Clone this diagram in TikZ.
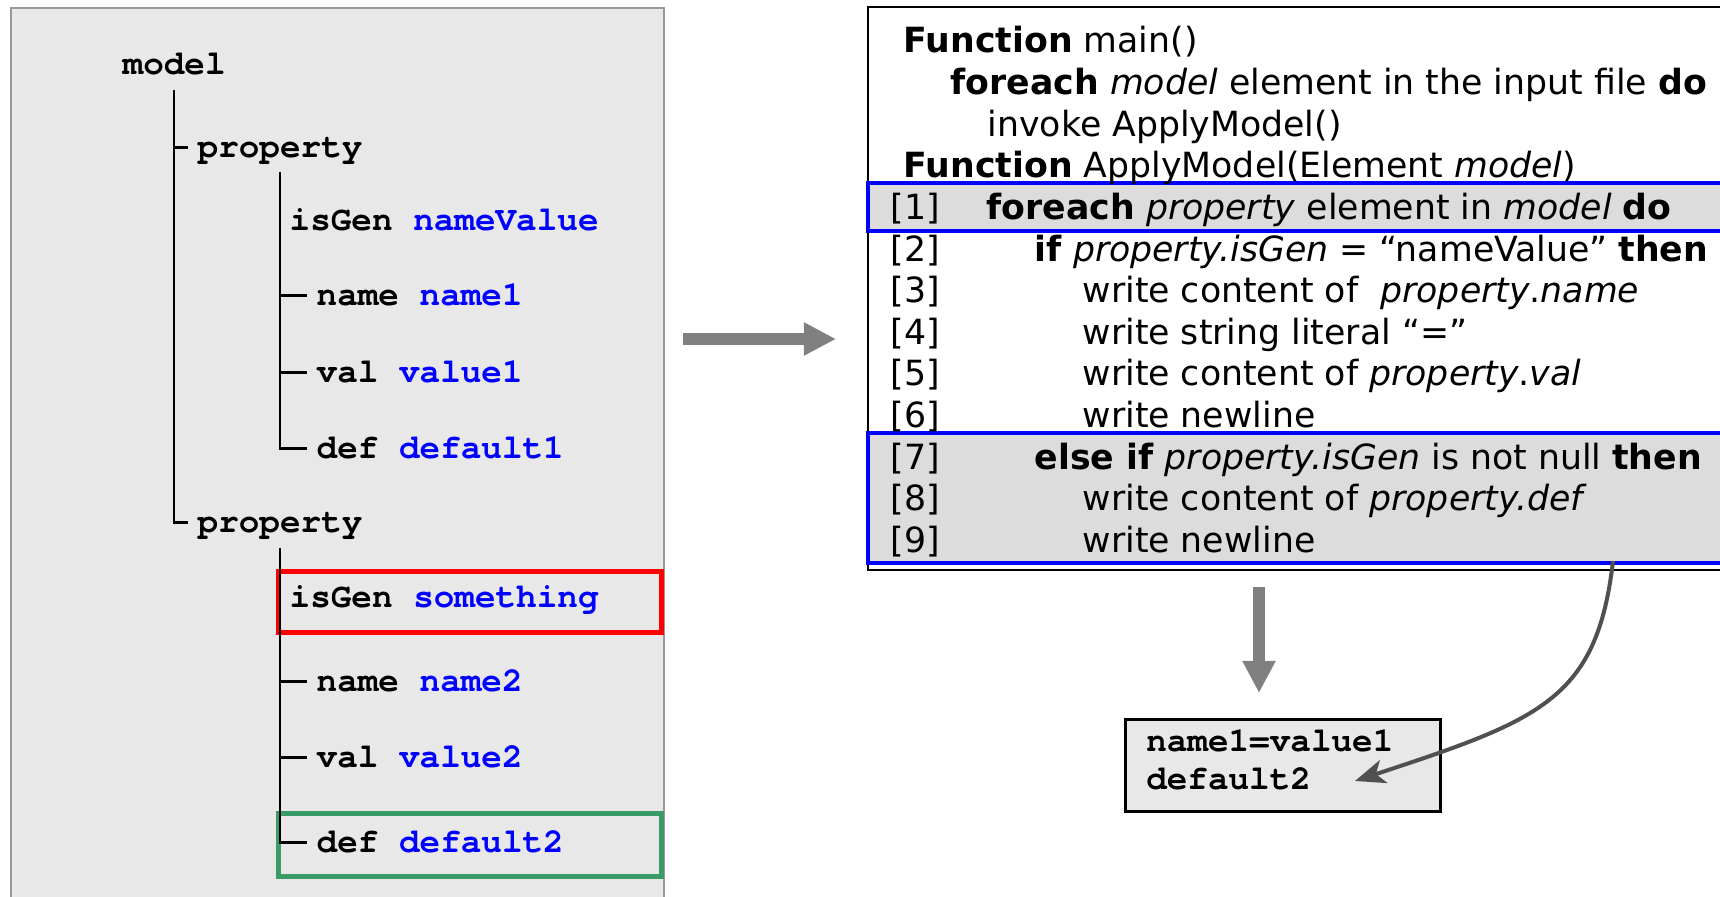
\documentclass[tikz,border=0pt]{standalone}
\usepackage{fontspec}
\setmainfont{DejaVu Sans}
\newfontfamily\codefont{TeX Gyre Cursor}
\usetikzlibrary{arrows.meta,positioning}
\definecolor{panelgray}{HTML}{E8E8E8}
\definecolor{rowgray}{HTML}{DCDCDC}
\definecolor{framegray}{HTML}{9A9A9A}
\definecolor{arrowgray}{HTML}{808080}
\definecolor{curvegray}{HTML}{505050}
\definecolor{valblue}{HTML}{0000FF}
\definecolor{hlred}{HTML}{FF0000}
\definecolor{hlgreen}{HTML}{3A9A68}
\newcommand{\kw}[1]{\textbf{#1}}
\newcommand{\va}[1]{\textit{#1}}
\newcommand{\xv}[1]{\textcolor{valblue}{#1}}
\tikzset{
  xmlnode/.style={anchor=base west, inner xsep=0.09cm, inner ysep=0pt,
    text height=0.19cm, text depth=0pt,
    font=\codefont\bfseries\fontsize{9.76pt}{10.8pt}\selectfont},
  tree/.style={line width=0.022cm, black},
  codeline/.style={anchor=base west, inner sep=0pt,
    font=\fontsize{9.87pt}{11.8pt}\selectfont},
  bigarrow/.style={arrowgray, line width=0.12cm,
    -{Triangle[length=0.32cm, width=0.31cm]}},
  curvearrow/.style={curvegray, line width=0.04cm,
    -{Stealth[length=0.3cm, width=0.24cm, inset=0.08cm]}},
  hlbox/.style={line width=0.05cm},
  rowbox/.style={valblue, fill=rowgray, line width=0.035cm}
}
\begin{document}
\begin{tikzpicture}[x=0.01cm, y=-0.01cm]
\useasboundingbox (0,0) rectangle (1720,897);
\clip (0,0) rectangle (1720,897);

% input file (tree)
\draw[framegray, fill=panelgray, line width=0.015cm] (11,8) rectangle (664,910);
\draw[hlred, hlbox] (278.5,571.5) rectangle (661,632.5);
\draw[hlgreen, hlbox] (278.5,813.5) rectangle (661,876);

\node[xmlnode] (model) at (113,74) {model};
\node[xmlnode] (prop1) at (188,157) {property};
\node[xmlnode] (gen1)  at (280,230) {isGen \xv{nameValue}};
\node[xmlnode] (name1) at (307,305) {name \xv{name1}};
\node[xmlnode] (val1)  at (307,382) {val \xv{value1}};
\node[xmlnode] (def1)  at (307,458) {def \xv{default1}};
\node[xmlnode] (prop2) at (188,532) {property};
\node[xmlnode] (gen2)  at (280,607) {isGen \xv{something}};
\node[xmlnode] (name2) at (307,691) {name \xv{name2}};
\node[xmlnode] (val2)  at (307,767) {val \xv{value2}};
\node[xmlnode] (def2)  at (307,852) {def \xv{default2}};

\coordinate (t1) at ([yshift=-0.15cm]model.south);
\coordinate (t2) at ([yshift=-0.14cm]prop1.south);
\coordinate (t3) at ([yshift=-0.15cm]prop2.south);
\draw[tree] (t1) |- (prop2.west);
\draw[tree] (t1 |- prop1.west) -- (prop1.west);
\draw[tree] (t2) |- (def1.west);
\draw[tree] (t3) |- (def2.west);
\foreach \nd in {name1,val1}
  \draw[tree] (t2 |- \nd.west) -- (\nd.west);
\foreach \nd in {name2,val2}
  \draw[tree] (t3 |- \nd.west) -- (\nd.west);

\coordinate (hA) at (683,339);
\coordinate (hB) at (836,339);
\draw[bigarrow] (hA) -- (hB);

% algorithm
\draw[black, fill=white, line width=0.02cm] (868,7) rectangle (1740,570);
\draw[rowbox] (868,183) rectangle (1740,231);
\draw[rowbox] (868,433) rectangle (1740,563);

\node[codeline] (f1) at (903,53)    {\kw{Function} main()};
\node[codeline] (f2) at (950,94.6)  {\kw{foreach} \va{model} element in the input file \kw{do}};
\node[codeline] (f3) at (987,136.2) {invoke ApplyModel()};
\node[codeline] (f4) at (903,177.8) {\kw{Function} ApplyModel(Element \va{model})};
\foreach \n/\x/\txt in {
  1/986/{\kw{foreach} \va{property} element in \va{model} \kw{do}},
  2/1034/{\kw{if} \va{property.isGen} = “nameValue” \kw{then}},
  3/1082/{write content of\ \ \va{property}.\va{name}},
  4/1082/{write string literal “=”},
  5/1082/{write content of \va{property}.\va{val}},
  6/1082/{write newline},
  7/1034/{\kw{else if} \va{property.isGen} is not null \kw{then}},
  8/1082/{write content of \va{property.def}},
  9/1082/{write newline}}{
  \node[codeline] (num\n) at (890,{53+41.6*(\n+3)}) {[\n]};
  \node[codeline] (txt\n) at (\x,{53+41.6*(\n+3)}) {\txt};
}

% output
\node[draw=black, fill=panelgray, line width=0.025cm, anchor=north west,
  minimum width=3.15cm, text width=2.73cm,
  inner xsep=0.21cm, inner ysep=0.11cm, text height=0.21cm, text depth=0.49cm,
  align=left, font=\codefont\bfseries\fontsize{9.76pt}{10.8pt}\selectfont]
  (outbox) at (1124,718) {name1=value1\\default2};

\coordinate (dA) at (1259,587);
\coordinate (dB) at (1259,693);
\draw[bigarrow] (dA) -- (dB);

\coordinate (cA) at (1613,561);
\coordinate (cB) at (1355,781);
\draw[curvearrow] (cA) .. controls (1597,700) and (1540,720) .. (cB);
\end{tikzpicture}
\end{document}
